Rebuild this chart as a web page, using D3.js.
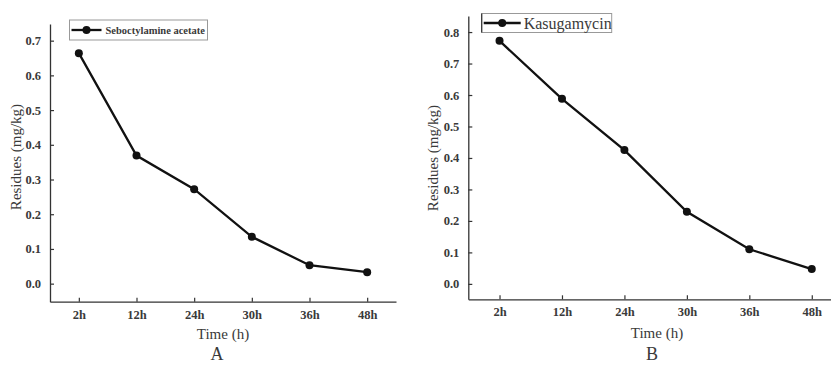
<!DOCTYPE html>
<html>
<head>
<meta charset="utf-8">
<script src="https://cdn.jsdelivr.net/npm/d3@7"></script>
<style>
  html, body { margin: 0; padding: 0; background: #fff; }
  svg { display: block; }
  svg text { font-family: 'Liberation Serif', 'Times New Roman', serif !important; fill: #3a3a3a; }
</style>
</head>
<body>
<svg id="chart" width="831" height="365"></svg>
<script>
const categories = ["2h", "12h", "24h", "30h", "36h", "48h"];
const seriesA = [0.664, 0.369, 0.272, 0.135, 0.053, 0.033];
const seriesB = [0.772, 0.588, 0.425, 0.229, 0.110, 0.047];
const ticksA = [0.0, 0.1, 0.2, 0.3, 0.4, 0.5, 0.6, 0.7];
const ticksB = [0.0, 0.1, 0.2, 0.3, 0.4, 0.5, 0.6, 0.7, 0.8];
const nameA = "Seboctylamine acetate";
const nameB = "Kasugamycin";
const yTitle = "Residues (mg/kg)";
const xTitle = "Time (h)";

const svg = d3.select("#chart");
const axisColor = "#333";
const serif = "'Liberation Serif', 'Times New Roman', serif";

function panel(cfg) {
  const g = svg.append("g");
  const x = d3.scalePoint().domain(categories).range([cfg.left, cfg.right]).padding(0.5);
  const y = d3.scaleLinear().domain(cfg.yDomain).range([cfg.bottom, cfg.top]);

  // y axis
  const ya = g.append("g").attr("transform", `translate(${cfg.left},0)`)
    .call(d3.axisLeft(y).tickValues(cfg.ticks).tickFormat(d3.format(".1f")).tickSizeInner(-4).tickSizeOuter(0).tickPadding(9));
  ya.attr("font-family", serif).attr("font-size", 13);
  ya.select(".domain").attr("stroke", axisColor).attr("stroke-width", 1.3);
  ya.selectAll(".tick line").attr("stroke", axisColor).attr("stroke-width", 1.2);
  ya.selectAll(".tick text").attr("fill", "#444").style("font-weight", "bold").style("font-size", "12.5px");

  // x axis
  const xa = g.append("g").attr("transform", `translate(0,${cfg.bottom})`)
    .call(d3.axisBottom(x).tickSizeInner(-4).tickSizeOuter(0).tickPadding(8));
  xa.attr("font-family", serif).attr("font-size", 13);
  xa.select(".domain").attr("stroke", axisColor).attr("stroke-width", 1.3);
  xa.selectAll(".tick line").attr("stroke", axisColor).attr("stroke-width", 1.2);
  xa.selectAll(".tick text").attr("fill", "#444").style("font-weight", "bold").style("font-size", "12.5px");

  // line
  const line = d3.line().x((d, i) => x(categories[i])).y(d => y(d));
  g.append("path").datum(cfg.values).attr("d", line)
    .attr("fill", "none").attr("stroke", "#111").attr("stroke-width", 2.3);
  g.selectAll("circle.pt").data(cfg.values).enter().append("circle")
    .attr("class", "pt")
    .attr("cx", (d, i) => x(categories[i])).attr("cy", d => y(d))
    .attr("r", 4).attr("fill", "#111");

  // axis titles
  g.append("text")
    .attr("transform", `translate(${cfg.yTitleX},${cfg.yTitleY}) rotate(-90)`)
    .attr("text-anchor", "middle").attr("dominant-baseline", "middle")
    .style("font-size", "15px").text(yTitle);
  g.append("text")
    .attr("x", cfg.xTitleX).attr("y", cfg.xTitleY)
    .attr("text-anchor", "middle")
    .style("font-size", "15px").text(xTitle);
  g.append("text")
    .attr("x", cfg.letterX).attr("y", cfg.letterY)
    .attr("text-anchor", "middle")
    .style("font-size", "18px").attr("fill", "#222").text(cfg.letter);

  // legend
  const lg = g.append("g");
  lg.append("rect").attr("x", cfg.leg.x).attr("y", cfg.leg.y)
    .attr("width", cfg.leg.w).attr("height", cfg.leg.h)
    .attr("fill", "#fff").attr("stroke", "#999").attr("stroke-width", 1);
  if (cfg.leg.darkLeft) {
    lg.append("line").attr("x1", cfg.leg.x).attr("x2", cfg.leg.x)
      .attr("y1", cfg.leg.y).attr("y2", cfg.leg.y + cfg.leg.h)
      .attr("stroke", "#333").attr("stroke-width", 1.2);
  }
  const ly = cfg.leg.y + cfg.leg.h / 2;
  lg.append("line").attr("x1", cfg.leg.x + cfg.leg.l1).attr("x2", cfg.leg.x + cfg.leg.l2)
    .attr("y1", ly).attr("y2", ly).attr("stroke", "#111").attr("stroke-width", 2.3);
  lg.append("circle").attr("cx", cfg.leg.x + (cfg.leg.l1 + cfg.leg.l2) / 2).attr("cy", ly)
    .attr("r", 4).attr("fill", "#111");
  lg.append("text").attr("x", cfg.leg.x + cfg.leg.tx).attr("y", ly)
    .attr("dominant-baseline", "central")
    .style("font-size", cfg.leg.fs + "px").style("font-weight", cfg.leg.fw)
    .attr("fill", "#222").text(cfg.name);
}

panel({
  left: 50, right: 396, top: 24, bottom: 301.7,
  yDomain: [-0.052, 0.748], ticks: ticksA, values: seriesA, name: nameA,
  yTitleX: 18, yTitleY: 157, xTitleX: 223, xTitleY: 339, letter: "A", letterX: 217, letterY: 360,
  leg: { x: 69.5, y: 20, w: 138, h: 20, l1: 2, l2: 32, tx: 36, fs: 10.5, fw: "bold", darkLeft: false }
});

panel({
  left: 468.3, right: 843, top: 16, bottom: 299.3,
  yDomain: [-0.049, 0.851], ticks: ticksB, values: seriesB, name: nameB,
  yTitleX: 435, yTitleY: 158, xTitleX: 657, xTitleY: 338, letter: "B", letterX: 652, letterY: 360,
  leg: { x: 481.7, y: 13.5, w: 130, h: 19, l1: 2, l2: 39, tx: 42, fs: 16, fw: "normal", darkLeft: true }
});
</script>
</body>
</html>
